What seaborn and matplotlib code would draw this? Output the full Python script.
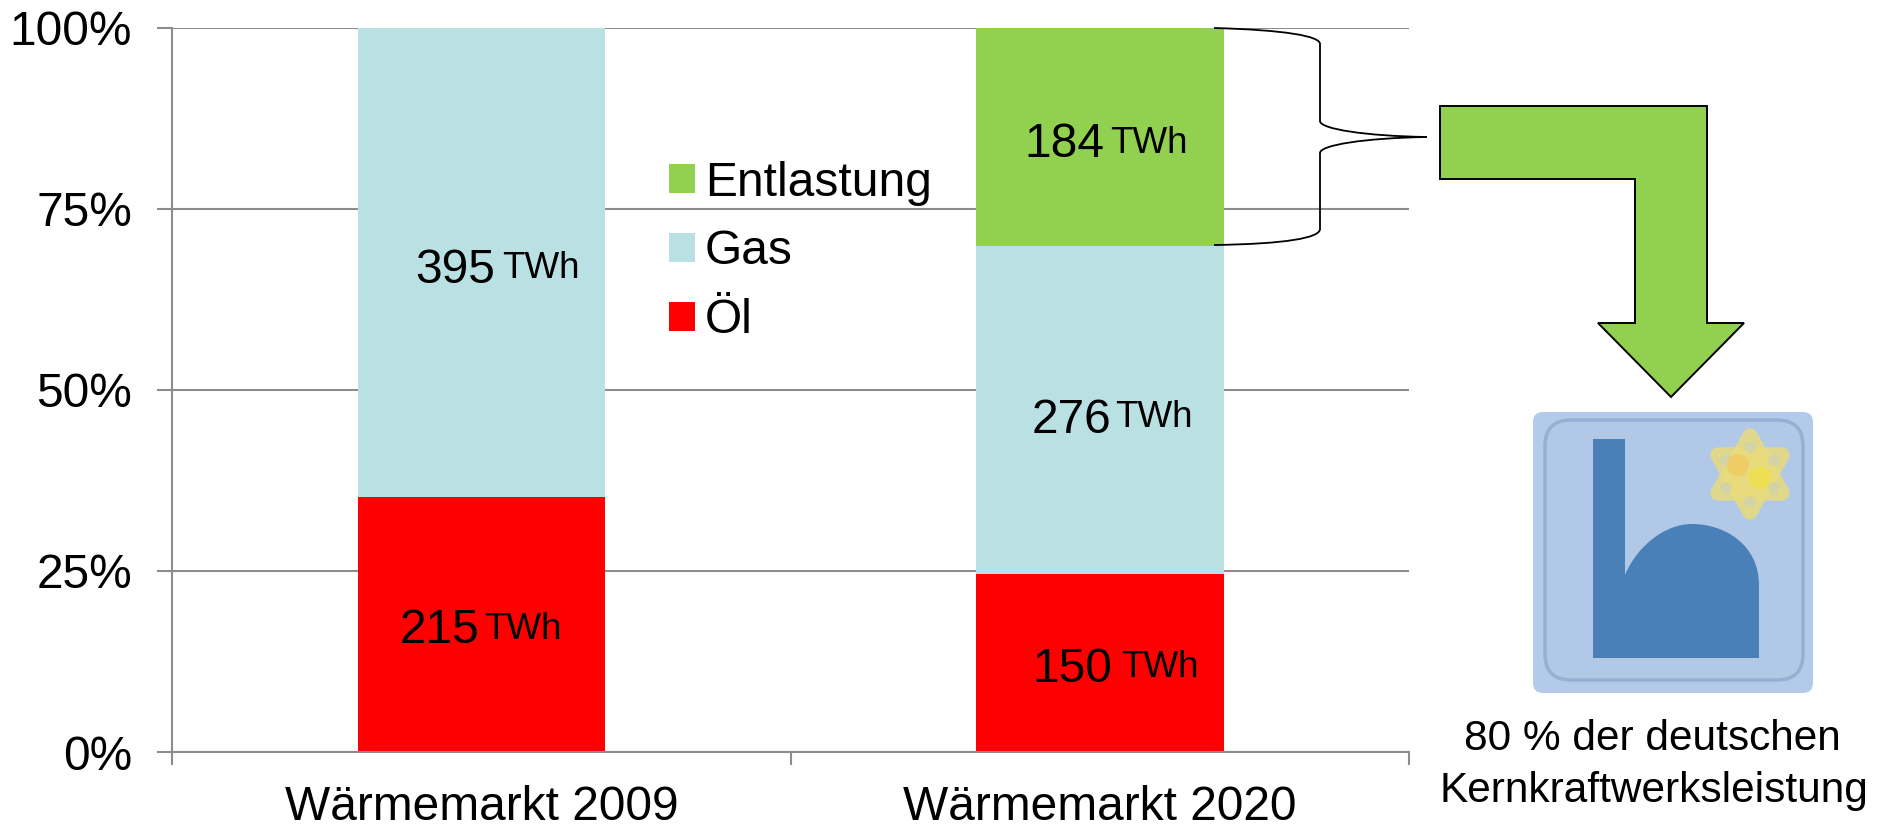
import numpy as np
import pandas as pd
import matplotlib
matplotlib.use("Agg")
import matplotlib.pyplot as plt
from matplotlib.patches import PathPatch, Polygon, Patch, FancyBboxPatch, Rectangle, Circle
from matplotlib.path import Path
from matplotlib.ticker import PercentFormatter
import seaborn as sns

W, H = 1877, 831

maerkte = ["Wärmemarkt 2009", "Wärmemarkt 2020"]
traeger = ["Entlastung", "Gas", "Öl"]
twh_2009 = [0, 395, 215]
twh_2020 = [184, 276, 150]
farben = ["#92D050", "#B9E0E3", "#FF0000"]
y_ticks = [0, 0.25, 0.5, 0.75, 1.0]

GRAU = "#8C8C8C"

sns.set_theme(style="white")
plt.rcParams["font.family"] = ["Liberation Sans", "DejaVu Sans"]

df = pd.DataFrame({
    "markt": [maerkte[0]] * 3 + [maerkte[1]] * 3,
    "traeger": traeger * 2,
    "twh": twh_2009 + twh_2020,
})

fig = plt.figure(figsize=(W / 100, H / 100), dpi=100, facecolor="white")
ax = fig.add_axes([172.4 / W, 1 - 752 / H, (1409 - 172.4) / W, (752 - 27.5) / H])

sns.histplot(data=df, x="markt", weights="twh", hue="traeger", hue_order=traeger,
             multiple="fill", discrete=True, shrink=0.4, palette=farben, alpha=1,
             linewidth=0, legend=False, ax=ax)

ax.set_xlim(-0.5, 1.5)
ax.set_ylim(0, 1)
ax.set_xlabel("")
ax.set_ylabel("")
ax.set_yticks(y_ticks)
ax.yaxis.set_major_formatter(PercentFormatter(1.0, decimals=0))
ax.set_xticks([0, 1], maerkte)
ax.set_xticks([-0.5, 0.5, 1.5], minor=True)
ax.set_axisbelow(True)
ax.grid(axis="y", color=GRAU, linewidth=1.5)
ax.grid(axis="x", visible=False)
ax.tick_params(axis="y", length=11, width=1.5, color=GRAU, pad=18, labelsize=34.5, left=True, labelcolor="black")
ax.tick_params(axis="x", which="major", length=0, pad=24, labelsize=34.5, labelcolor="black")
ax.tick_params(axis="x", which="minor", length=9, width=1.5, color=GRAU, bottom=True)
sns.despine(ax=ax, top=True, right=True)
for s in ["left", "bottom"]:
    ax.spines[s].set_color(GRAU)
    ax.spines[s].set_linewidth(1.5)

# overlay in pixels for the labels and the drawn shapes
ov = fig.add_axes([0, 0, 1, 1], facecolor="none")
ov.set_xlim(0, W)
ov.set_ylim(H, 0)
ov.axis("off")

# (zahl, x, baseline, x einheit, baseline einheit)
werte = [
    ("395", 415, 283, 502, 278),
    ("215", 400, 643, 484, 639),
    ("184", 1024, 157, 1110, 153),
    ("276", 1032, 433, 1115, 427),
    ("150", 1032, 682, 1121, 677),
]
for zahl, x1, y1, x2, y2 in werte:
    ov.text(x1, y1, zahl, fontsize=34.5, ha="left", va="baseline", color="black")
    ov.text(x2, y2, "TWh", fontsize=26.5, ha="left", va="baseline", color="black")

handles = [Patch(facecolor=f, edgecolor="none", label=t) for f, t in zip(farben, traeger)]
ov.legend(handles=handles, loc="center left", bbox_to_anchor=(669 / W, 1 - 252 / H),
          frameon=False, fontsize=34.5, handlelength=0.55, handleheight=0.55,
          handletextpad=0.2, labelspacing=0.5, borderpad=0, borderaxespad=0, labelcolor="black")

# geschweifte Klammer
klammer = Path(
    [(1214, 28), (1285, 30), (1320, 36), (1320, 44),
     (1320, 121),
     (1320, 129), (1365, 136), (1427, 137),
     (1365, 138), (1320, 145), (1320, 153),
     (1320, 229),
     (1320, 238), (1285, 244), (1214, 245)],
    [Path.MOVETO, Path.CURVE4, Path.CURVE4, Path.CURVE4,
     Path.LINETO,
     Path.CURVE4, Path.CURVE4, Path.CURVE4,
     Path.CURVE4, Path.CURVE4, Path.CURVE4,
     Path.LINETO,
     Path.CURVE4, Path.CURVE4, Path.CURVE4],
)
ov.add_patch(PathPatch(klammer, facecolor="none", edgecolor="black", linewidth=1.3))

# Winkelpfeil
pfeil = [(1440, 106), (1707, 106), (1707, 323), (1744, 323), (1671, 397),
         (1598, 323), (1635, 323), (1635, 179), (1440, 179)]
ov.add_patch(Polygon(pfeil, closed=True, facecolor="#92D050", edgecolor="black", linewidth=1.4))

# Kraftwerks-Icon
ov.add_patch(FancyBboxPatch((1545, 424), 256, 257, boxstyle="round,pad=12,rounding_size=10",
                            facecolor="#B3CBE8", edgecolor="none"))
ov.add_patch(FancyBboxPatch((1560, 435), 228, 230, boxstyle="round,pad=15,rounding_size=26",
                            facecolor="#B1C8E6", edgecolor="#97AFD3", linewidth=2.5))
ov.add_patch(Rectangle((1593, 439), 32, 219, facecolor="#4A80B8", edgecolor="none"))
kuppel = Path(
    [(1625, 658), (1625, 575), (1637, 546), (1665, 524), (1692, 524),
     (1725, 524), (1759, 545), (1759, 585), (1759, 658), (1625, 658)],
    [Path.MOVETO, Path.LINETO, Path.CURVE4, Path.CURVE4, Path.CURVE4,
     Path.CURVE4, Path.CURVE4, Path.CURVE4, Path.LINETO, Path.CLOSEPOLY],
)
ov.add_patch(PathPatch(kuppel, facecolor="#4A80B8", edgecolor="none"))

# Atom als verwaschener Stern, runde Ecken statt Spitzen
stern_a = [(1750, 436), (1782, 493), (1718, 493)]
stern_b = [(1750, 512), (1718, 455), (1782, 455)]
for stern in (stern_a, stern_b):
    ov.add_patch(Polygon(stern, closed=True, facecolor="#E8DC7C", edgecolor="#E8DC7C",
                         linewidth=11, joinstyle="round", alpha=0.85))
for lx, ly in [(1750, 447), (1726, 460), (1726, 488), (1750, 502), (1774, 488), (1774, 460)]:
    ov.add_patch(Circle((lx, ly), 6, facecolor="#C9CFC0", edgecolor="none", alpha=0.6))
ov.add_patch(Circle((1738, 465), 11, facecolor="#F4C85A", edgecolor="none", alpha=0.7))
ov.add_patch(Circle((1760, 478), 11, facecolor="#F2E040", edgecolor="none", alpha=0.7))

ov.text(1652, 750, "80 % der deutschen", fontsize=30.5, ha="center", va="baseline", color="black")
ov.text(1654, 802, "Kernkraftwerksleistung", fontsize=30.5, ha="center", va="baseline", color="black")

fig.savefig("out.png", dpi=100, facecolor="white")
plt.close(fig)
